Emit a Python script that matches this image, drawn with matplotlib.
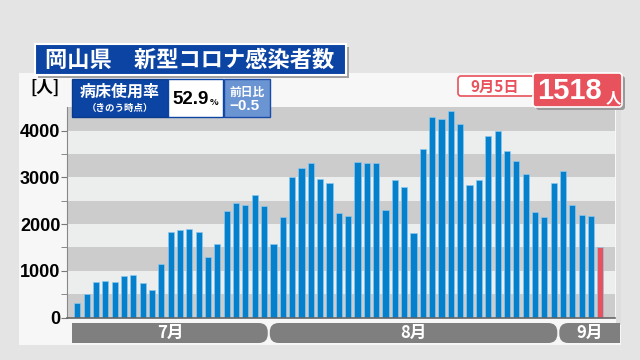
import numpy as np
import matplotlib
matplotlib.use("Agg")
import matplotlib.pyplot as plt
from matplotlib.patches import FancyBboxPatch, Rectangle

plt.rcParams['font.family'] = ['Noto Sans CJK JP', 'DejaVu Sans']

# daily new cases, Jul 11 .. Sep 5
cases = [300, 500, 757, 786, 750, 879, 914, 736, 586, 1136,
         1829, 1871, 1900, 1829, 1286, 1564, 2279, 2443, 2407, 2621,
         2393, 1564, 2150, 3007, 3193, 3307, 2957, 2879, 2229, 2179,
         3329, 3300, 3307, 2293, 2943, 2800, 1800, 3614, 4300, 4243,
         4414, 4136, 2843, 2936, 3893, 3993, 3557, 3350, 3079, 2264,
         2150, 2886, 3136, 2400, 2193, 2164, 1518]
months = ["7月", "8月", "9月"]
month_days = [21, 31, 5]
y_ticks = [0, 1000, 2000, 3000, 4000]
title = "岡山県　新型コロナ感染者数"
bed_rate = "52.9"
bed_diff = "−0.5"
latest_date = "9月5日"

BLUE = "#0c44a4"
BAR = "#0580cc"
RED = "#e8525c"
NUM_FONT = ["Liberation Sans", "DejaVu Sans"]

fig = plt.figure(figsize=(6.4, 3.6), dpi=100)
fig.patch.set_facecolor("#e5e4e4")

# pixel-space layers (origin top-left)
bg = fig.add_axes([0, 0, 1, 1], zorder=0)
bg.set_xlim(0, 640)
bg.set_ylim(360, 0)
bg.axis("off")
bg.add_patch(Rectangle((19, 73), 602, 272, fc="#f7f7f7", ec="none"))
bg.add_patch(Rectangle((616, 100), 5, 225, fc="#dedede", ec="none"))

ax = fig.add_axes([67.3 / 640, 1 - 317.5 / 360, (615 - 67.3) / 640, (317.5 - 107.4) / 360], zorder=1)
x = np.arange(len(cases))
for k in range(9):
    ax.axhspan(k * 500, (k + 1) * 500, color="#cccccc" if k % 2 == 0 else "#eceeee", lw=0, zorder=0)
colors = [BAR] * (len(cases) - 1) + [RED]
ax.bar(x, cases, width=0.66, color=colors, edgecolor="#8cc8ee", linewidth=0.5, zorder=2)
ax.set_xlim(-1.07, 57.57)
ax.set_ylim(0, 4500)
ax.set_xticks([])
ax.set_yticks(y_ticks)
ax.set_yticks(np.arange(500, 4500, 1000), minor=True)
ax.tick_params(axis="y", which="major", length=4, color="#777777", pad=1)
ax.tick_params(axis="y", which="minor", length=4, color="#777777")
for lab in ax.get_yticklabels():
    lab.set_fontfamily(NUM_FONT)
    lab.set_fontweight("bold")
    lab.set_fontsize(13)
for s in ["top", "right"]:
    ax.spines[s].set_visible(False)
ax.spines["left"].set_color("#888888")
ax.spines["bottom"].set_color("#666666")
ax.spines["bottom"].set_linewidth(1.2)

ov = fig.add_axes([0, 0, 1, 1], zorder=5)
ov.set_xlim(0, 640)
ov.set_ylim(360, 0)
ov.axis("off")
ov.patch.set_alpha(0)

# title
ov.add_patch(Rectangle((38, 47), 311, 31, fc="#a0a0a0", ec="none"))
ov.add_patch(Rectangle((35, 44), 311, 31, fc=BLUE, ec="white", lw=1.5))
ov.text(190, 60, title, color="white", fontsize=16, fontweight="bold", ha="center", va="center")

ov.text(45, 88, "[人]", fontsize=12, fontweight="bold", ha="center", va="center")

# bed occupancy boxes
ov.add_patch(Rectangle((72, 79), 96, 38, fc=BLUE, ec="#0a3a8a", lw=1))
ov.text(120, 92, "病床使用率", color="white", fontsize=11.5, fontweight="bold", ha="center", va="center")
ov.text(120, 108, "（きのう時点）", color="white", fontsize=6.8, fontweight="bold", ha="center", va="center")
ov.add_patch(Rectangle((168, 79), 55, 38, fc="white", ec=BLUE, lw=1))
ov.text(172, 100, bed_rate, fontsize=13.5, fontweight="bold", family=NUM_FONT, ha="left", va="center")
ov.text(210, 102.5, "%", fontsize=6.5, fontweight="bold", ha="left", va="center")
ov.add_patch(Rectangle((224, 79), 46, 38, fc="#6b95d2", ec="#1a4aa8", lw=1))
ov.text(229, 92, "前日比", color="white", fontsize=8.5, fontweight="bold", ha="left", va="center")
ov.text(229, 106, bed_diff, color="white", fontsize=11, fontweight="bold", family=NUM_FONT, ha="left", va="center")

# latest day badge
ov.add_patch(FancyBboxPatch((458, 76), 76, 20, boxstyle="round,pad=0,rounding_size=3",
                            fc="white", ec=RED, lw=1.2))
ov.text(495, 86.5, latest_date, color=RED, fontsize=11, fontweight="bold", ha="center", va="center")
ov.add_patch(FancyBboxPatch((536, 76), 89, 34, boxstyle="round,pad=0,rounding_size=3",
                            fc="#9a9a9a", ec="none"))
ov.add_patch(FancyBboxPatch((533, 73), 89, 34, boxstyle="round,pad=0,rounding_size=3",
                            fc=RED, ec="white", lw=1.2))
ov.text(537, 91, f"{cases[-1]}", color="white", fontsize=21, fontweight="bold", family=NUM_FONT,
        ha="left", va="center")
ov.text(613, 97, "人", color="white", fontsize=11, fontweight="bold", ha="center", va="center")

# month bands
fig.canvas.draw()
def to_px(xd):
    return ax.transData.transform((xd, 0))[0]

edges = np.concatenate([[-0.55], np.cumsum(month_days) - 0.5])
edges[-1] = 58.1
band_y, band_h = 323, 20
for i, name in enumerate(months):
    x0 = to_px(edges[i]) + (1 if i > 0 else 0)
    x1 = to_px(edges[i + 1]) - (1 if i < len(months) - 1 else 0)
    ov.add_patch(FancyBboxPatch((x0, band_y), x1 - x0, band_h,
                                boxstyle="round,pad=0,rounding_size=9", fc="#7f7f7f", ec="none"))
    if i == 0:
        ov.add_patch(Rectangle((x0, band_y), 12, band_h, fc="#7f7f7f", ec="none"))
    if i == len(months) - 1:
        ov.add_patch(Rectangle((x1 - 12, band_y), 12, band_h, fc="#7f7f7f", ec="none"))
    ov.text((x0 + x1) / 2, band_y + band_h / 2, name, color="white", fontsize=12,
            fontweight="bold", ha="center", va="center")

plt.savefig("out.png", dpi=100)
